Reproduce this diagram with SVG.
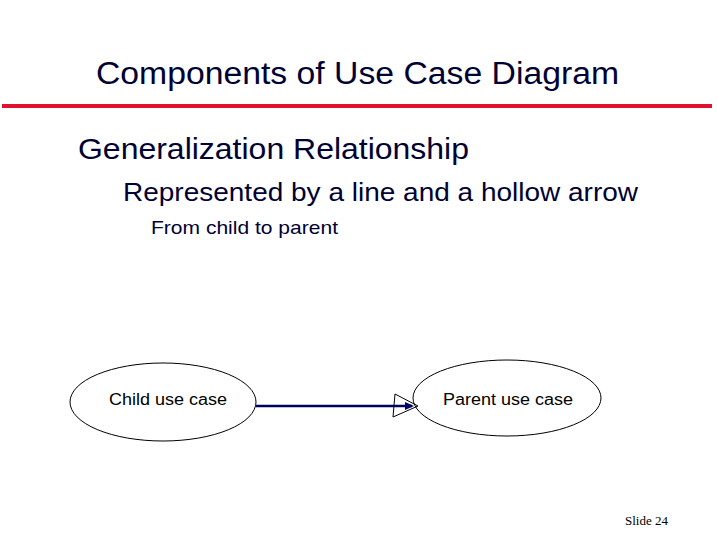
<svg xmlns="http://www.w3.org/2000/svg" width="717" height="538" viewBox="0 0 717 538">
<style>
.t{font-family:"Liberation Sans",Arial,sans-serif;fill:#000}
.n{fill:#fff;stroke:#000;stroke-width:1}
</style>
<rect width="717" height="538" fill="#fff"/>
<text x="96" y="84" textLength="523" lengthAdjust="spacingAndGlyphs" class="t" style="font-size:31px;fill:#000033">Components of Use Case Diagram</text>
<rect x="2" y="104" width="710" height="4" fill="#e0102f"/>
<text x="78" y="159" textLength="391" lengthAdjust="spacingAndGlyphs" class="t" style="font-size:29px;fill:#000033">Generalization Relationship</text>
<text x="123" y="201" textLength="515" lengthAdjust="spacingAndGlyphs" class="t" style="font-size:25px;fill:#000033">Represented by a line and a hollow arrow</text>
<text x="151" y="234" textLength="187" lengthAdjust="spacingAndGlyphs" class="t" style="font-size:19px;fill:#000033">From child to parent</text>
<g id="child"><ellipse class="n" cx="163" cy="402" rx="93" ry="39"/><text x="109" y="405" textLength="118" lengthAdjust="spacingAndGlyphs" class="t" style="font-size:16px">Child use case</text></g>
<g id="parent"><ellipse class="n" cx="507" cy="398" rx="94" ry="38"/><text x="443" y="405" textLength="130" lengthAdjust="spacingAndGlyphs" class="t" style="font-size:16px">Parent use case</text></g>
<g id="connectors">
<line x1="256" y1="406" x2="412" y2="406" stroke="#000066" stroke-width="2.5"/>
<polygon points="405,402 414,406 405,410" fill="#000066"/>
<polygon points="395,394 418,406 393,417" fill="none" stroke="#000" stroke-width="1"/>
</g>
<text x="625" y="525" textLength="43" lengthAdjust="spacingAndGlyphs" class="t" style="font-family:'Liberation Serif',serif;font-size:12px">Slide  24</text>
</svg>
